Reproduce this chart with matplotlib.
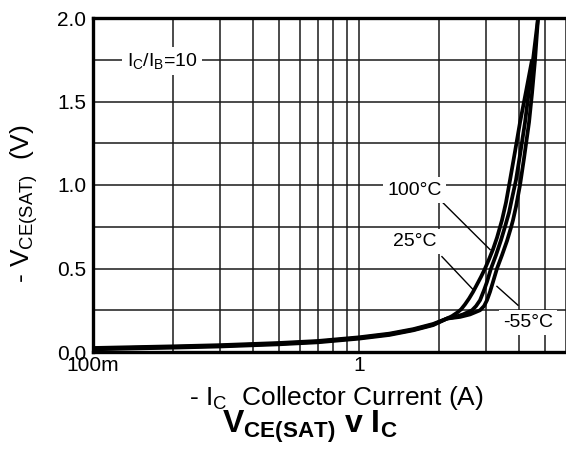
import matplotlib
matplotlib.use("Agg")
import matplotlib.pyplot as plt
from matplotlib.ticker import FixedLocator, NullFormatter, FixedFormatter

plt.rcParams['font.family'] = ['Liberation Sans', 'DejaVu Sans']
plt.rcParams['mathtext.fontset'] = 'custom'
plt.rcParams['mathtext.rm'] = 'Liberation Sans'
plt.rcParams['mathtext.it'] = 'Liberation Sans'
plt.rcParams['mathtext.bf'] = 'Liberation Sans:bold'

# ---- data ----
ic_100 = [0.1, 0.2, 0.3, 0.5, 0.7, 1.0, 1.3, 1.6, 1.9, 2.14, 2.237, 2.335, 2.418, 2.503, 2.592,
          2.684, 2.778, 2.875, 2.977, 3.081, 3.19, 3.302, 3.448, 3.569, 3.696, 3.859, 4.03,
          4.245, 4.472]
vce_100 = [0.024, 0.034, 0.041, 0.054, 0.066, 0.088, 0.110, 0.137, 0.168, 0.20, 0.215, 0.235,
           0.255, 0.285, 0.32, 0.36, 0.405, 0.45, 0.50, 0.555, 0.615, 0.685, 0.79, 0.895, 1.03,
           1.2, 1.375, 1.56, 1.75]

ic_25 = [0.1, 0.2, 0.3, 0.5, 0.7, 1.0, 1.3, 1.6, 1.9, 2.14, 2.296, 2.46, 2.66, 2.754, 2.851,
         2.951, 3.028, 3.135, 3.273, 3.418, 3.539, 3.664, 3.76, 3.892, 4.03, 4.208, 4.357,
         4.51, 4.71]
vce_25 = [0.020, 0.030, 0.037, 0.050, 0.062, 0.084, 0.106, 0.133, 0.164, 0.20, 0.21, 0.225,
          0.25, 0.275, 0.31, 0.37, 0.42, 0.50, 0.58, 0.67, 0.75, 0.835, 0.92, 1.03, 1.18,
          1.375, 1.57, 1.75, 2.0]

ic_m55 = [0.1, 0.2, 0.3, 0.5, 0.7, 1.0, 1.3, 1.6, 1.9, 2.14, 2.398, 2.614, 2.851, 2.951, 3.028,
          3.108, 3.19, 3.302, 3.448, 3.6, 3.727, 3.793, 3.892, 4.03, 4.172, 4.357, 4.472,
          4.59, 4.71]
vce_m55 = [0.016, 0.026, 0.033, 0.046, 0.058, 0.080, 0.102, 0.130, 0.161, 0.20, 0.21, 0.225,
           0.25, 0.275, 0.31, 0.36, 0.42, 0.50, 0.58, 0.665, 0.745, 0.79, 0.87, 1.0, 1.16,
           1.375, 1.55, 1.75, 2.0]

x_tick_vals = [0.1, 1.0]
x_tick_labels = ["100m", "1"]
y_tick_vals = [0.0, 0.5, 1.0, 1.5, 2.0]
y_tick_labels = ["0.0", "0.5", "1.0", "1.5", "2.0"]

W, H = 566, 453
fig = plt.figure(figsize=(W / 100, H / 100), dpi=100)
left, right, top, bottom = 93, 566, 18, 352
ax = fig.add_axes([left / W, 1 - bottom / H, (right - left) / W, (bottom - top) / H])

ax.set_xscale('log')
ax.set_xlim(0.1, 6.0)
ax.set_ylim(0, 2.0)

for xs, ys in [(ic_100, vce_100), (ic_25, vce_25), (ic_m55, vce_m55)]:
    ax.plot(xs, ys, color='black', lw=2.7, solid_capstyle='butt', solid_joinstyle='round',
            zorder=3)

# grid
minor_x = [k * 0.1 for k in range(2, 10)] + [k * 1.0 for k in range(2, 7)]
ax.xaxis.set_major_locator(FixedLocator(x_tick_vals))
ax.xaxis.set_major_formatter(FixedFormatter(x_tick_labels))
ax.xaxis.set_minor_locator(FixedLocator(minor_x))
ax.xaxis.set_minor_formatter(NullFormatter())
ax.yaxis.set_major_locator(FixedLocator(y_tick_vals))
ax.yaxis.set_major_formatter(FixedFormatter(y_tick_labels))
ax.yaxis.set_minor_locator(FixedLocator([0.25, 0.75, 1.25, 1.75]))
ax.grid(True, which='both', color='#1a1a1a', lw=1.1, zorder=1)
ax.set_axisbelow(True)
ax.tick_params(which='both', length=0, labelsize=15, colors='black')
ax.tick_params(axis='x', pad=3)
ax.tick_params(axis='y', pad=5)

for s in ['left', 'bottom', 'top']:
    ax.spines[s].set_linewidth(2.4)
    ax.spines[s].set_color('black')
ax.spines['right'].set_visible(False)

box = dict(facecolor='white', edgecolor='none', pad=3)
ax.text(0.1817, 1.744, r'I$_{\rm C}$/I$_{\rm B}$=10', fontsize=14, ha='center', va='center',
        bbox=box, zorder=4)
ax.text(1.62, 0.97, '100°C', fontsize=14, ha='center', va='center', bbox=box, zorder=4)
ax.text(1.62, 0.661, '25°C', fontsize=14, ha='center', va='center', bbox=box, zorder=4)
ax.text(4.32, 0.179, '-55°C', fontsize=14, ha='center', va='center', bbox=box, zorder=4)

# leader lines
ax.plot([2.07, 3.11], [0.893, 0.613], color='black', lw=1.0, zorder=2.5)
ax.plot([2.05, 2.68], [0.571, 0.375], color='black', lw=1.0, zorder=2.5)
ax.plot([3.30, 3.96], [0.393, 0.280], color='black', lw=1.0, zorder=2.5)

fig.text(24 / W, 1 - 204 / H, r'- V$_{\rm CE(SAT)}$  (V)', rotation=90, fontsize=19,
         ha='center', va='center')
fig.text(336 / W, 1 - 398 / H, r'- I$_{\rm C}$  Collector Current (A)', fontsize=19,
         ha='center', va='center')
fig.text(310 / W, 1 - 427 / H, r'$\mathbf{V_{CE(SAT)}\ v\ I_C}$', fontsize=23,
         ha='center', va='center')

fig.savefig('out.png', dpi=100)
